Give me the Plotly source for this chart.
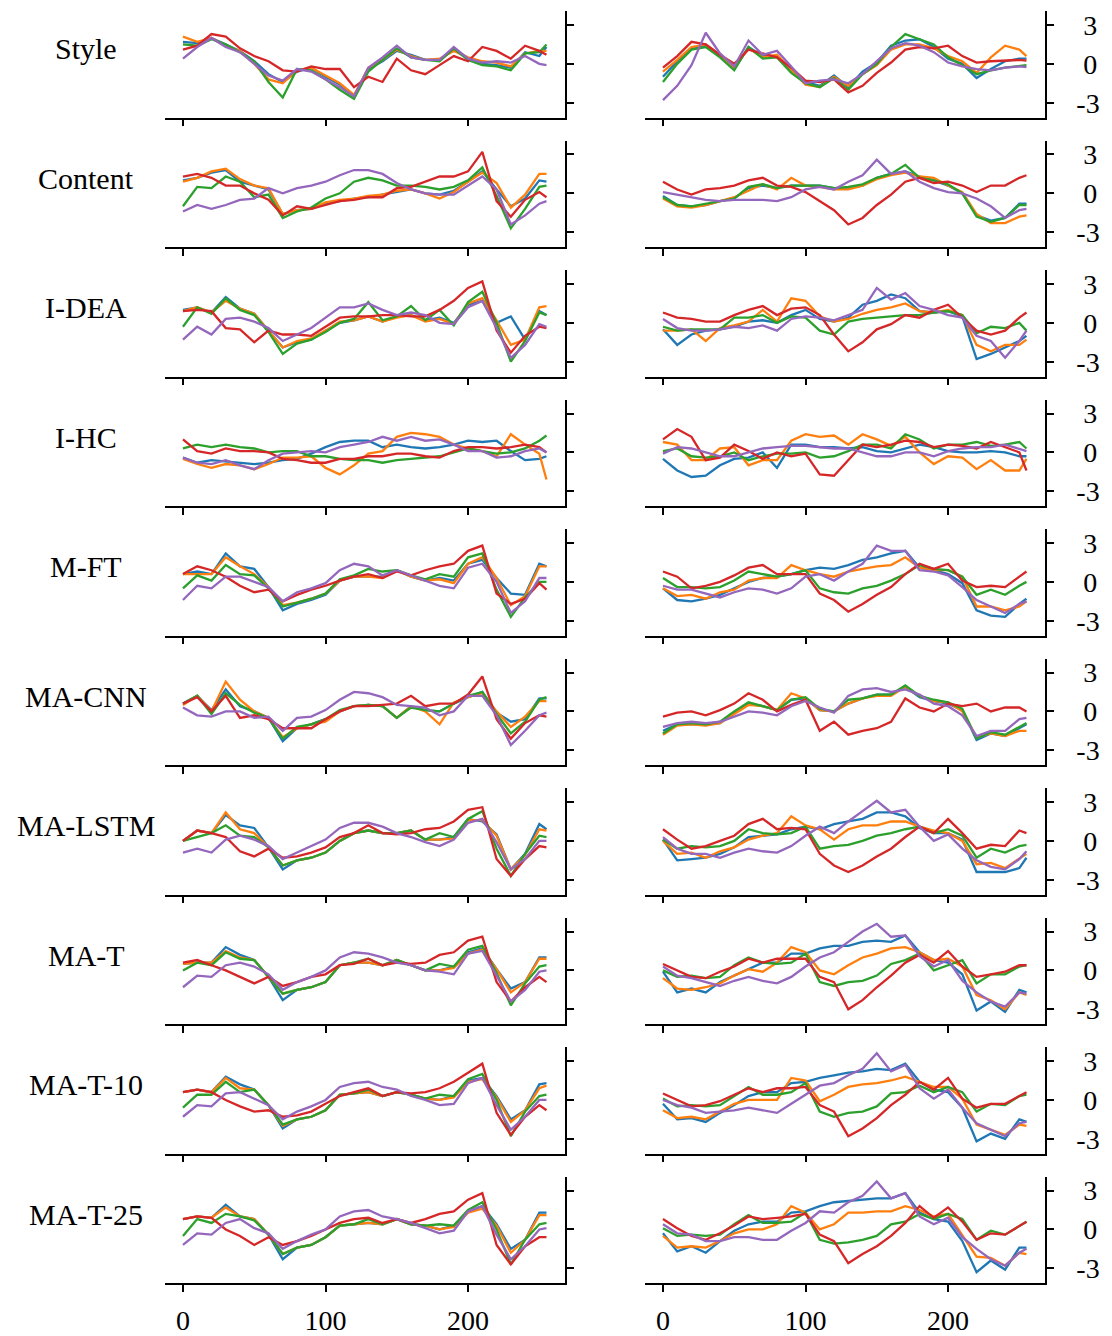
import plotly.graph_objects as go

# ---------------- data ----------------
t = [0, 10, 20, 30, 40, 50, 60, 70, 80, 90, 100, 110, 120, 130, 140, 150, 160, 170, 180, 190, 200, 210, 220, 230, 240, 250, 255]
row_labels = ["Style", "Content", "I-DEA", "I-HC", "M-FT", "MA-CNN", "MA-LSTM", "MA-T", "MA-T-10", "MA-T-25"]
colors = ["#1f77b4", "#ff7f0e", "#2ca02c", "#d62728", "#9467bd"]
x_ticks = [0, 100, 200]
y_ticks = [-3, 0, 3]
y_tick_labels = ["-3", "\u20050", "\u20053"]

# Style
style_l_blue = [1.7,1.6,2.0,1.5,1.0,0.2,-0.8,-1.4,-0.6,-0.3,-1.0,-1.6,-2.5,-0.4,0.2,1.0,0.7,0.3,0.3,1.1,0.4,0.0,-0.1,-0.3,0.9,0.6,1.3]
style_l_orange = [2.1,1.7,2.0,1.4,1.0,0.0,-1.2,-1.5,-0.5,-0.3,-0.9,-1.5,-2.4,-0.3,0.3,1.1,0.6,0.3,0.4,1.0,0.5,0.2,0.1,-0.2,0.8,1.0,1.0]
style_l_green = [1.5,1.4,1.9,1.5,0.9,0.2,-1.4,-2.6,-0.4,-0.5,-1.2,-2.0,-2.7,-0.6,0.3,1.2,0.5,0.3,0.2,1.2,0.3,-0.1,-0.2,-0.5,0.8,0.9,1.5]
style_l_red = [1.1,1.4,2.3,2.1,1.2,0.6,0.2,-0.5,-0.6,-0.2,-0.4,-0.4,-1.8,-1.0,-1.4,0.4,-0.5,-0.8,-0.1,0.6,0.2,1.3,1.0,0.4,1.4,1.0,0.7]
style_l_purple = [0.4,1.3,2.0,1.3,0.9,0.0,-0.9,-1.3,-0.4,-0.6,-1.2,-1.8,-2.5,-0.3,0.5,1.4,0.5,0.3,0.3,1.3,0.4,0.1,0.2,0.1,0.6,0.0,-0.1]
style_r_blue = [-1.0,0.2,1.2,1.4,0.6,-0.4,1.3,0.6,0.6,-0.6,-1.4,-1.7,-0.9,-1.8,-0.6,0.1,1.4,1.8,1.9,1.3,0.4,0.0,-1.1,-0.4,0.2,0.4,0.4]
style_r_orange = [-0.6,0.3,1.3,1.5,0.7,-0.3,1.2,0.5,0.7,-0.5,-1.6,-1.8,-1.0,-1.7,-0.8,-0.1,1.1,1.5,1.5,1.2,0.6,0.2,-0.7,0.5,1.4,1.1,0.6]
style_r_green = [-1.4,0.0,1.1,1.3,0.5,-0.5,1.3,0.4,0.5,-0.7,-1.5,-1.8,-1.1,-2.0,-0.8,0.0,1.3,2.3,1.9,1.5,0.5,-0.1,-0.8,-0.5,-0.3,-0.2,-0.1]
style_r_red = [-0.3,0.6,1.7,1.5,0.7,0.0,1.1,0.8,0.5,-0.3,-1.3,-1.4,-1.2,-2.2,-1.7,-0.7,0.1,1.1,1.3,1.2,1.4,0.6,0.1,0.2,0.25,0.3,0.25]
style_r_purple = [-2.8,-1.7,-0.1,2.4,0.8,-0.2,1.8,0.7,1.0,-0.2,-1.5,-1.3,-1.2,-1.5,-0.8,0.2,1.2,1.6,1.4,0.9,0.1,-0.2,-0.4,-0.5,-0.3,-0.2,-0.25]

# Content
content_l_blue = [1.0,1.2,1.6,1.8,0.9,0.6,0.3,-1.6,-1.3,-1.2,-0.8,-0.6,-0.4,-0.3,-0.1,0.1,0.3,0.0,-0.1,0.2,0.9,1.7,0.3,-1.0,-0.4,1.0,0.9]
content_l_orange = [0.9,1.2,1.7,1.9,1.1,0.6,0.4,-1.6,-1.3,-1.2,-0.7,-0.5,-0.4,-0.2,-0.1,0.2,0.3,0.0,-0.4,0.1,0.9,1.6,0.8,-1.1,-0.1,1.5,1.5]
content_l_green = [-1.0,0.5,0.4,1.3,0.9,-0.3,-0.1,-1.9,-1.4,-1.1,-0.4,0.0,0.9,1.2,1.0,0.6,0.6,0.5,0.3,0.5,1.0,2.0,-0.2,-2.7,-1.2,0.5,0.6]
content_l_red = [1.3,1.5,1.2,0.6,0.6,0.0,-0.5,-1.7,-1.0,-1.2,-0.9,-0.6,-0.5,-0.3,-0.3,0.4,0.5,0.9,1.3,1.3,1.7,3.2,-0.6,-1.8,-0.5,0.1,-0.3]
content_l_purple = [-1.4,-0.9,-1.2,-0.9,-0.5,-0.4,0.4,0.0,0.4,0.6,0.9,1.4,1.8,1.8,1.5,0.8,0.3,0.0,-0.1,-0.1,0.6,1.3,0.3,-2.4,-1.7,-0.8,-0.6]
content_r_blue = [-0.2,-0.9,-1.0,-0.9,-0.6,-0.4,0.4,0.6,0.4,0.6,0.6,0.6,0.4,0.4,0.6,1.2,1.5,1.7,1.3,1.0,0.6,0.0,-1.7,-2.1,-1.9,-0.8,-0.8]
content_r_orange = [-0.4,-1.0,-1.1,-0.9,-0.6,-0.3,0.2,0.7,0.3,1.2,0.6,0.5,0.3,0.3,0.6,1.1,1.4,1.6,1.3,1.2,0.6,0.1,-1.6,-2.3,-2.3,-1.8,-1.7]
content_r_green = [-0.3,-0.9,-1.0,-0.8,-0.6,-0.4,0.5,0.7,0.4,0.6,0.6,0.6,0.4,0.5,0.7,1.2,1.5,2.2,1.2,1.0,0.7,0.0,-1.8,-2.2,-1.9,-0.9,-0.9]
content_r_red = [0.9,0.3,-0.1,0.3,0.4,0.6,1.0,1.2,0.6,0.5,0.1,-0.6,-1.3,-2.4,-1.9,-0.9,-0.1,0.9,1.2,0.8,0.9,0.6,0.1,0.6,0.6,1.2,1.4]
content_r_purple = [0.1,-0.1,-0.3,-0.5,-0.6,-0.5,-0.5,-0.5,-0.6,-0.3,0.3,0.5,0.3,0.9,1.4,2.6,1.5,1.7,0.9,0.4,0.1,0.0,-0.4,-1.0,-1.9,-1.3,-1.2]

# I-DEA
idea_l_blue = [1.0,1.2,0.8,2.0,1.1,0.7,-0.6,-1.9,-1.5,-1.3,-0.6,0.0,0.2,0.5,0.1,0.5,0.6,0.2,0.4,0.0,1.4,1.7,0.0,0.5,-1.3,0.9,0.6]
idea_l_orange = [0.9,1.2,0.8,1.7,1.1,0.7,-0.6,-1.9,-1.4,-1.2,-0.6,0.1,0.2,0.5,0.1,0.4,0.6,0.1,0.3,-0.1,1.5,1.9,0.2,-1.7,-1.3,1.2,1.3]
idea_l_green = [-0.3,1.2,0.7,1.9,1.0,0.6,-0.7,-2.4,-1.6,-1.3,-0.7,0.0,0.3,1.6,0.2,0.5,1.3,0.2,1.0,-0.2,1.6,2.4,0.0,-3.0,-1.4,0.8,0.6]
idea_l_red = [0.9,1.0,0.9,-0.4,-0.5,-1.5,-0.6,-0.9,-0.9,-1.0,-0.3,0.4,0.5,0.5,0.6,0.6,0.5,0.5,1.0,1.7,2.7,3.2,-0.6,-2.3,-1.0,-0.3,-0.4]
idea_l_purple = [-1.3,-0.3,-0.9,0.3,0.4,0.1,-0.4,-1.4,-0.9,-0.4,0.4,1.2,1.2,1.5,1.0,0.6,0.8,0.6,0.0,-0.1,1.2,1.7,-0.4,-2.7,-1.7,-0.1,-0.3]
idea_r_blue = [-0.5,-1.7,-0.9,-0.6,-0.5,-0.3,0.1,0.2,0.0,0.6,1.0,0.3,0.1,0.4,1.4,1.7,2.2,1.9,0.9,0.8,0.9,0.5,-2.8,-2.4,-1.9,-1.4,-1.0]
idea_r_orange = [-0.6,-0.6,-0.5,-1.4,-0.4,-0.2,0.1,1.0,0.1,1.9,1.7,0.5,0.1,0.3,0.7,1.0,1.2,1.5,0.9,0.8,1.0,0.6,-1.7,-2.2,-1.7,-1.7,-1.3]
idea_r_green = [-0.3,-0.6,-0.5,-0.5,-0.5,0.4,0.4,0.6,0.0,0.5,0.4,-0.6,-0.9,0.1,0.3,0.4,0.5,0.6,0.6,0.8,0.9,0.6,-0.8,-0.3,-0.4,0.0,-0.6]
idea_r_red = [0.8,0.4,0.3,0.1,0.1,0.6,1.0,1.3,0.6,1.1,1.2,0.6,-0.9,-2.2,-1.5,-0.5,-0.1,0.6,0.4,1.0,1.4,0.4,-0.6,-0.9,-0.6,0.4,0.8]
idea_r_purple = [0.3,-0.4,-0.6,-0.6,-0.5,-0.3,-0.4,-0.2,-0.6,0.3,0.5,0.4,0.2,0.6,1.0,2.7,1.8,2.3,1.3,1.0,0.6,0.4,-1.0,-1.4,-2.7,-1.4,-0.6]

# I-HC
ihc_l_blue = [-0.4,-0.8,-0.6,-0.7,-0.8,-0.9,-0.8,-0.6,-0.5,-0.1,0.4,0.8,0.9,0.9,0.4,0.6,0.4,0.3,0.4,0.6,0.9,0.8,0.9,0.1,-0.6,-0.5,-0.3]
ihc_l_orange = [-0.5,-0.9,-1.2,-0.9,-1.0,-1.3,-0.9,-0.4,-0.4,-0.3,-1.2,-1.7,-1.0,-0.1,0.1,1.2,1.5,1.4,1.2,0.6,0.3,0.1,-0.3,1.4,0.6,-0.1,-2.1]
ihc_l_green = [0.3,0.6,0.4,0.6,0.4,0.3,0.0,0.1,0.1,-0.3,-0.3,-0.5,-0.6,-0.6,-0.8,-0.6,-0.5,-0.4,-0.3,0.0,0.3,0.1,-0.1,0.0,0.3,0.9,1.3]
ihc_l_red = [1.0,0.1,-0.1,0.3,0.1,0.1,0.0,-0.5,-0.6,-0.8,-0.8,-0.5,-0.5,-0.3,-0.3,-0.1,-0.1,-0.3,-0.4,0.1,0.4,0.4,0.3,0.4,0.6,0.4,0.0]
ihc_l_purple = [-0.4,-0.8,-0.9,-0.6,-1.0,-1.3,-0.6,-0.1,0.0,0.1,0.0,0.4,0.6,0.8,1.2,0.9,1.2,0.9,1.0,0.6,0.1,0.1,-0.4,-0.3,0.1,0.3,0.0]
ihc_r_blue = [-0.5,-1.4,-1.9,-1.8,-1.0,-0.5,-0.4,0.0,-1.2,0.6,0.6,0.4,0.4,0.3,0.4,0.1,0.0,0.3,0.6,0.4,0.1,0.0,0.0,0.1,0.0,-0.3,-0.3]
ihc_r_orange = [0.8,0.6,-0.6,-0.6,0.3,0.4,-1.0,-0.6,-0.6,0.9,1.4,1.2,1.3,0.6,1.4,1.0,0.5,1.2,0.0,-0.9,-0.3,-0.4,-1.3,-0.6,-1.4,-1.4,-0.5]
ihc_r_green = [0.1,0.3,-0.3,-0.4,-0.3,0.0,-0.6,-0.3,-0.1,-0.1,0.0,-0.4,-0.3,0.1,0.6,0.6,0.3,1.4,1.0,0.3,0.6,0.6,0.8,0.5,0.6,0.8,0.3]
ihc_r_red = [1.0,1.8,1.2,-0.6,-0.4,0.6,0.1,-0.5,0.0,-0.3,-0.1,-1.7,-1.8,-0.6,0.6,0.4,0.6,0.9,0.8,0.4,0.6,0.5,0.3,0.8,0.4,0.0,-1.4]
ihc_r_purple = [-0.1,0.4,0.3,0.0,-0.3,-0.3,0.0,0.3,0.4,0.5,0.5,0.4,0.3,0.3,0.0,-0.3,-0.3,0.0,0.0,-0.3,0.1,0.3,0.4,0.4,0.6,0.3,0.1]

# M-FT
mft_l_blue = [0.6,0.8,0.6,2.2,1.2,1.0,-0.4,-2.2,-1.7,-1.4,-1.0,0.1,0.4,0.4,0.4,0.9,0.4,0.1,0.3,0.1,1.4,1.7,0.3,-0.9,-1.0,1.4,1.2]
mft_l_orange = [0.6,0.6,0.6,1.9,1.2,0.6,-0.4,-1.8,-1.6,-1.3,-0.9,0.1,0.4,0.4,0.3,0.9,0.4,0.1,0.2,-0.1,1.4,1.9,0.3,-1.8,-1.1,1.2,1.2]
mft_l_green = [-0.5,0.5,0.1,1.3,0.6,0.5,-0.5,-1.9,-1.6,-1.3,-0.9,0.2,0.5,1.0,0.8,0.9,0.5,0.2,0.6,0.4,1.9,2.2,-0.6,-2.7,-1.2,0.0,0.0]
mft_l_red = [0.6,1.2,0.9,0.4,-0.3,-0.8,-0.6,-1.5,-1.0,-0.6,-0.3,0.1,0.4,0.6,0.3,0.8,0.5,0.9,1.2,1.4,2.4,2.8,-0.9,-1.7,-1.3,-0.1,-0.6]
mft_l_purple = [-1.4,-0.3,-0.5,0.4,0.4,0.0,-0.4,-1.5,-0.8,-0.5,-0.1,0.9,1.4,1.2,0.5,0.9,0.5,0.1,-0.3,-0.5,1.1,1.4,0.0,-2.4,-1.5,0.3,0.3]
mft_r_blue = [-0.5,-1.4,-1.5,-1.3,-1.0,-0.5,0.0,0.3,0.4,0.6,0.9,1.1,1.0,1.3,1.7,1.9,2.2,2.4,1.1,0.9,0.6,-0.1,-2.2,-2.6,-2.7,-1.7,-1.3]
mft_r_orange = [-0.5,-1.1,-1.0,-1.3,-0.8,-0.6,0.1,0.3,0.3,1.3,0.9,0.6,0.4,0.8,1.0,1.2,1.3,1.9,1.1,0.9,0.9,0.4,-1.9,-1.9,-2.2,-1.9,-1.5]
mft_r_green = [0.3,-0.4,-0.4,-0.5,-0.4,0.1,0.8,0.6,0.4,0.6,0.9,-0.5,-0.8,-0.9,-0.5,-0.3,0.1,0.6,1.3,1.0,0.9,0.4,-1.0,-0.6,-1.0,-0.3,0.0]
mft_r_red = [0.8,0.4,-0.5,-0.3,0.0,0.5,1.1,1.3,0.6,0.6,0.6,-0.9,-1.4,-2.3,-1.7,-1.0,-0.4,0.6,1.4,1.0,1.4,0.1,-0.4,-0.3,-0.4,0.4,0.8]
mft_r_purple = [-0.3,-0.6,-0.6,-0.9,-1.2,-0.8,-0.5,-0.6,-0.9,-0.5,0.4,0.6,0.1,0.8,1.4,2.8,2.4,2.4,0.9,0.8,0.5,-0.4,-1.4,-1.9,-2.4,-1.7,-1.5]

# MA-CNN
macnn_l_blue = [0.6,1.2,0.1,1.7,0.4,0.0,-0.5,-2.3,-1.3,-1.0,-0.6,0.0,0.4,0.5,0.4,-0.5,0.4,0.1,0.0,0.6,1.1,1.5,-0.1,-0.8,-0.6,1.0,1.0]
macnn_l_orange = [0.5,1.2,0.0,2.3,0.9,0.0,-0.5,-2.0,-1.3,-1.0,-0.8,0.0,0.4,0.5,0.4,-0.5,0.4,0.0,-1.0,0.7,1.1,1.4,0.0,-1.2,-0.4,0.8,0.8]
macnn_l_green = [0.6,1.2,-0.2,1.4,0.5,-0.1,-0.5,-2.1,-1.2,-1.0,-0.6,0.1,0.4,0.5,0.4,-0.5,0.3,0.1,0.0,0.6,1.2,1.5,-0.2,-1.7,-0.8,0.9,1.1]
macnn_l_red = [0.6,1.1,0.0,1.2,-0.5,-0.3,-0.6,-1.3,-1.3,-1.3,-0.6,0.0,0.4,0.4,0.5,0.6,1.2,0.4,0.6,0.6,1.3,2.7,-0.6,-2.1,-0.9,-0.3,-0.4]
macnn_l_purple = [0.3,-0.3,-0.4,0.0,0.0,-0.5,-0.4,-1.5,-0.5,-0.4,0.1,0.9,1.5,1.4,1.1,0.5,0.4,0.3,-0.3,0.0,1.2,1.2,-0.3,-2.6,-1.5,-0.3,-0.1]
macnn_r_blue = [-1.5,-1.0,-1.0,-1.0,-0.9,-0.1,0.6,0.4,0.1,0.9,1.0,0.1,0.0,0.6,1.0,1.3,1.3,1.9,1.1,0.8,0.6,0.1,-2.2,-1.7,-1.9,-1.3,-1.0]
macnn_r_orange = [-1.8,-1.1,-1.0,-1.1,-0.9,-0.2,0.5,0.4,0.1,1.4,1.0,0.1,0.0,0.6,1.0,1.2,1.2,1.9,1.2,0.8,0.7,0.0,-2.0,-1.7,-1.9,-1.5,-1.5]
macnn_r_green = [-1.7,-1.0,-0.9,-1.0,-0.8,0.0,0.7,0.4,0.1,0.9,1.1,0.2,0.0,0.9,1.0,1.3,1.3,2.0,1.2,0.9,0.7,0.2,-2.1,-1.6,-1.8,-1.2,-0.9]
macnn_r_red = [-0.4,-0.1,0.0,-0.3,0.1,0.6,1.4,0.9,0.0,0.5,0.9,-1.5,-0.8,-1.8,-1.5,-1.3,-0.8,1.0,0.3,0.0,0.6,0.4,0.6,0.0,0.3,0.3,0.0]
macnn_r_purple = [-1.2,-0.9,-0.8,-0.9,-0.8,-0.4,0.0,-0.1,-0.3,0.4,0.8,0.3,-0.1,1.2,1.7,1.8,1.5,1.7,1.3,0.6,0.4,-0.3,-1.9,-1.5,-1.5,-0.6,-0.5]

# MA-LSTM
malstm_l_blue = [0.0,0.8,0.6,2.0,1.2,1.0,-0.5,-2.2,-1.5,-1.3,-0.9,0.0,0.6,0.8,0.6,0.6,0.8,0.1,0.1,0.3,1.7,1.5,0.5,-2.2,-1.0,1.3,0.9]
malstm_l_orange = [0.0,0.8,0.6,2.2,0.9,0.6,-0.5,-1.9,-1.5,-1.3,-0.9,0.0,0.6,0.8,0.6,0.6,0.8,0.1,0.1,0.2,1.6,1.6,0.4,-2.2,-1.1,0.9,0.8]
malstm_l_green = [0.0,0.3,0.6,1.2,0.4,0.3,-0.5,-1.9,-1.5,-1.3,-0.9,0.0,0.6,0.8,0.6,0.6,0.8,0.1,0.6,0.3,1.7,2.3,-0.6,-2.7,-1.0,0.4,0.3]
malstm_l_red = [0.0,0.8,0.6,0.3,-0.8,-1.2,-0.6,-1.3,-1.2,-0.9,-0.5,0.3,0.6,1.2,0.6,0.5,0.6,0.9,1.0,1.5,2.4,2.6,-1.4,-2.7,-1.4,-0.4,-0.5]
malstm_l_purple = [-0.9,-0.6,-0.9,0.1,0.4,0.1,-0.4,-1.4,-0.9,-0.4,0.1,1.0,1.4,1.4,1.1,0.6,0.3,-0.1,-0.4,0.1,1.4,1.7,-0.1,-2.2,-1.4,0.0,0.0]
malstm_r_blue = [0.1,-1.5,-1.4,-1.3,-1.0,-0.5,0.3,0.4,0.5,0.9,1.1,0.9,1.3,1.5,1.7,2.2,2.2,1.9,1.0,0.6,0.6,0.1,-2.4,-2.4,-2.4,-2.1,-1.3]
malstm_r_orange = [0.0,-1.0,-0.9,-1.3,-0.8,-0.5,0.1,0.4,0.6,1.9,1.2,0.9,0.1,0.9,1.2,1.2,1.5,1.5,1.1,0.8,0.6,0.0,-1.8,-1.7,-2.1,-1.4,-1.0]
malstm_r_green = [0.1,-0.6,-0.4,-0.5,-0.4,0.0,0.9,0.6,0.5,0.6,1.1,-0.6,-0.4,-0.3,0.0,0.4,0.6,0.9,1.1,0.6,0.9,0.4,-1.3,-0.6,-0.9,-0.4,-0.3]
malstm_r_red = [0.9,0.1,-0.6,-0.4,0.0,0.4,1.3,1.7,0.9,1.0,0.9,-1.0,-1.9,-2.4,-1.9,-1.2,-0.6,0.3,1.1,0.6,1.7,0.6,-0.6,-0.3,-0.4,0.8,0.6]
malstm_r_purple = [0.3,-0.6,-1.0,-1.0,-1.3,-0.9,-0.6,-0.8,-0.9,-0.4,0.4,1.1,0.6,1.5,2.3,3.1,2.2,2.4,1.1,0.0,0.5,-0.6,-1.5,-2.0,-2.2,-1.4,-0.8]

# MA-T
mat_l_blue = [0.5,0.6,0.6,1.8,1.2,0.8,-0.5,-2.3,-1.5,-1.3,-0.9,0.4,0.6,0.6,0.4,0.8,0.4,0.0,0.0,0.3,1.4,1.7,0.1,-1.4,-0.9,1.0,1.0]
mat_l_orange = [0.5,0.6,0.6,1.5,1.0,0.8,-0.5,-1.8,-1.5,-1.3,-0.9,0.4,0.6,0.6,0.4,0.8,0.4,0.0,0.0,0.2,1.3,1.6,0.1,-1.7,-0.9,0.9,0.9]
mat_l_green = [0.0,0.6,0.4,1.4,0.9,0.8,-0.5,-1.8,-1.5,-1.3,-0.9,0.4,0.6,0.9,0.4,0.8,0.4,0.0,0.5,0.3,1.6,1.9,-0.2,-2.7,-1.0,0.3,0.4]
mat_l_red = [0.6,0.8,0.4,0.0,-0.5,-1.0,-0.5,-1.2,-0.9,-0.5,-0.3,0.4,0.5,0.9,0.4,0.6,0.5,0.6,1.2,1.4,2.3,2.6,-0.9,-2.4,-1.3,-0.5,-0.9]
mat_l_purple = [-1.3,-0.4,-0.5,0.4,0.6,0.3,-0.3,-1.5,-0.9,-0.5,0.0,1.0,1.4,1.3,1.0,0.6,0.4,0.0,-0.1,-0.3,1.3,1.5,-0.4,-2.4,-1.5,-0.1,0.0]
mat_r_blue = [-0.1,-1.7,-1.4,-1.7,-0.9,-0.4,0.1,0.6,0.6,1.3,1.3,1.7,1.9,1.9,2.2,2.3,2.2,2.7,1.4,0.8,0.6,-0.3,-3.1,-2.4,-3.2,-1.5,-1.7]
mat_r_orange = [-0.6,-1.4,-1.5,-1.3,-1.0,-0.4,0.1,-0.1,0.6,1.8,1.4,0.0,-0.3,0.4,1.0,1.3,1.7,1.8,1.4,0.8,0.9,0.3,-1.9,-2.3,-3.0,-1.7,-1.9]
mat_r_green = [0.0,-0.5,-0.4,-0.6,-0.5,0.4,1.0,0.6,0.5,0.6,1.3,-0.9,-1.2,-0.9,-0.8,-0.4,0.5,0.8,1.3,0.0,0.4,0.8,-1.0,-0.3,-0.3,0.3,0.4]
mat_r_red = [0.5,0.0,-0.5,-0.6,-0.1,0.3,0.9,0.6,0.9,0.9,0.9,-0.5,-0.9,-3.0,-2.3,-1.3,-0.4,0.6,1.2,0.6,1.5,0.3,-0.5,-0.3,-0.1,0.4,0.4]
mat_r_purple = [0.3,-0.4,-0.6,-0.9,-1.2,-0.8,-0.5,-0.8,-1.0,-0.5,0.3,1.0,1.4,2.2,3.0,3.6,2.6,2.7,1.1,0.3,0.8,-0.8,-1.7,-2.4,-2.8,-1.7,-1.8]

# MA-T-10
mat10_l_blue = [0.6,0.8,0.6,1.8,1.2,0.8,-0.4,-2.2,-1.5,-1.3,-0.8,0.4,0.5,0.6,0.3,0.6,0.4,0.1,0.0,0.3,1.5,1.7,0.3,-1.5,-0.8,1.2,1.3]
mat10_l_orange = [0.6,0.8,0.6,1.7,0.9,0.8,-0.4,-2.0,-1.5,-1.3,-0.8,0.4,0.5,0.6,0.3,0.6,0.4,0.1,0.0,0.2,1.4,1.6,0.2,-1.7,-0.8,0.9,1.1]
mat10_l_green = [-0.6,0.4,0.4,1.4,0.6,0.8,-0.4,-1.9,-1.5,-1.3,-0.8,0.4,0.5,0.8,0.3,0.6,0.4,0.1,0.4,0.3,1.6,2.0,0.0,-2.8,-0.9,0.3,0.4]
mat10_l_red = [0.6,0.8,0.6,0.0,-0.5,-0.9,-0.8,-1.3,-1.2,-0.9,-0.3,0.3,0.6,0.9,0.3,0.6,0.5,0.6,0.9,1.4,2.1,2.8,-1.0,-2.7,-1.3,-0.4,-0.8]
mat10_l_purple = [-1.3,-0.4,-0.5,0.5,0.6,0.1,-0.4,-1.5,-0.9,-0.5,0.0,1.0,1.3,1.4,1.0,0.8,0.3,0.0,-0.4,-0.3,1.3,1.7,-0.4,-2.3,-1.3,0.0,0.0]
mat10_r_blue = [-0.3,-1.5,-1.4,-1.7,-1.0,-0.4,0.3,0.6,0.6,1.3,1.4,1.7,1.9,2.1,2.2,2.4,2.3,2.8,1.4,0.8,0.6,-0.6,-3.2,-2.6,-3.0,-1.5,-1.7]
mat10_r_orange = [-0.8,-1.4,-1.3,-1.5,-0.9,-0.3,0.0,0.0,0.0,1.7,1.5,-0.1,0.4,1.0,1.2,1.3,1.5,1.8,1.4,1.0,1.0,0.1,-1.9,-2.3,-2.7,-1.9,-2.0]
mat10_r_green = [0.1,-0.5,-0.4,-0.5,-0.4,0.3,1.0,0.4,0.4,0.6,1.3,-0.9,-1.3,-1.0,-0.9,-0.5,0.5,0.6,1.1,0.6,1.0,0.6,-0.9,-0.3,-0.4,0.3,0.4]
mat10_r_red = [0.5,0.0,-0.5,-0.4,-0.1,0.4,0.9,0.6,0.9,0.9,1.0,-0.4,-0.9,-2.8,-2.2,-1.4,-0.4,0.4,1.4,0.8,1.7,0.1,-0.6,-0.3,-0.3,0.3,0.6]
mat10_r_purple = [0.0,-0.4,-0.6,-1.0,-0.9,-0.8,-0.6,-0.8,-1.0,-0.3,0.4,1.1,1.3,1.9,2.4,3.6,2.2,2.7,0.9,0.1,0.8,-0.6,-1.8,-2.3,-2.8,-1.8,-1.7]

# MA-T-25
mat25_l_blue = [0.8,1.0,0.9,1.9,1.0,0.8,-0.4,-2.3,-1.4,-1.2,-0.6,0.3,0.4,0.5,0.4,0.8,0.4,0.3,0.0,0.3,1.4,1.8,0.4,-1.5,-0.8,1.3,1.3]
mat25_l_orange = [0.8,1.0,0.9,1.7,1.0,0.8,-0.4,-1.9,-1.4,-1.2,-0.6,0.3,0.4,0.5,0.4,0.8,0.4,0.3,0.0,0.2,1.3,1.6,0.3,-1.8,-0.8,1.1,1.1]
mat25_l_green = [-0.5,0.8,0.5,1.2,1.0,0.7,-0.4,-1.9,-1.4,-1.2,-0.6,0.3,0.4,0.8,0.4,0.8,0.4,0.3,0.4,0.3,1.5,2.1,0.0,-2.7,-0.8,0.4,0.5]
mat25_l_red = [0.8,1.0,0.9,0.0,-0.5,-1.2,-0.6,-1.2,-0.9,-0.5,0.0,0.5,0.8,0.9,0.5,0.8,0.5,0.8,1.2,1.4,2.3,2.8,-1.2,-2.7,-1.3,-0.6,-0.6]
mat25_l_purple = [-1.2,-0.3,-0.4,0.5,0.8,0.1,-0.3,-1.5,-0.9,-0.4,0.0,1.0,1.4,1.5,1.0,0.8,0.5,0.1,-0.3,-0.1,1.4,1.8,-0.4,-2.3,-1.3,0.0,0.1]
mat25_r_blue = [-0.3,-1.7,-1.3,-1.8,-0.9,-0.1,0.4,0.6,0.6,1.3,1.4,1.8,2.1,2.2,2.3,2.4,2.4,2.8,1.3,0.8,0.6,-0.9,-3.3,-2.4,-3.1,-1.4,-1.4]
mat25_r_orange = [-0.5,-1.4,-1.3,-1.4,-0.9,-0.3,0.0,0.0,0.4,1.8,1.3,0.0,0.4,1.3,1.3,1.4,1.4,1.8,1.5,1.0,1.2,-0.5,-2.1,-2.2,-2.8,-1.8,-1.9]
mat25_r_green = [0.1,-0.5,-0.4,-0.5,-0.4,0.4,1.1,0.5,0.5,0.6,1.3,-0.8,-1.1,-1.0,-0.8,-0.5,0.4,0.6,1.2,0.8,1.2,0.8,-0.8,-0.1,-0.4,0.3,0.6]
mat25_r_red = [0.8,0.1,-0.5,-0.8,-0.3,0.3,1.0,0.8,0.9,1.0,1.2,-0.4,-0.9,-2.6,-1.9,-1.3,-0.5,0.5,1.8,0.9,1.7,0.6,-0.8,-0.3,-0.4,0.3,0.6]
mat25_r_purple = [0.4,-0.3,-0.4,-0.9,-0.9,-0.6,-0.6,-0.8,-0.8,-0.1,0.5,1.4,1.3,2.1,2.6,3.7,2.4,2.8,1.0,0.4,0.9,-0.6,-1.5,-2.3,-2.8,-1.8,-1.5]

panels = [
    [[style_l_blue, style_l_orange, style_l_green, style_l_red, style_l_purple],
     [style_r_blue, style_r_orange, style_r_green, style_r_red, style_r_purple]],
    [[content_l_blue, content_l_orange, content_l_green, content_l_red, content_l_purple],
     [content_r_blue, content_r_orange, content_r_green, content_r_red, content_r_purple]],
    [[idea_l_blue, idea_l_orange, idea_l_green, idea_l_red, idea_l_purple],
     [idea_r_blue, idea_r_orange, idea_r_green, idea_r_red, idea_r_purple]],
    [[ihc_l_blue, ihc_l_orange, ihc_l_green, ihc_l_red, ihc_l_purple],
     [ihc_r_blue, ihc_r_orange, ihc_r_green, ihc_r_red, ihc_r_purple]],
    [[mft_l_blue, mft_l_orange, mft_l_green, mft_l_red, mft_l_purple],
     [mft_r_blue, mft_r_orange, mft_r_green, mft_r_red, mft_r_purple]],
    [[macnn_l_blue, macnn_l_orange, macnn_l_green, macnn_l_red, macnn_l_purple],
     [macnn_r_blue, macnn_r_orange, macnn_r_green, macnn_r_red, macnn_r_purple]],
    [[malstm_l_blue, malstm_l_orange, malstm_l_green, malstm_l_red, malstm_l_purple],
     [malstm_r_blue, malstm_r_orange, malstm_r_green, malstm_r_red, malstm_r_purple]],
    [[mat_l_blue, mat_l_orange, mat_l_green, mat_l_red, mat_l_purple],
     [mat_r_blue, mat_r_orange, mat_r_green, mat_r_red, mat_r_purple]],
    [[mat10_l_blue, mat10_l_orange, mat10_l_green, mat10_l_red, mat10_l_purple],
     [mat10_r_blue, mat10_r_orange, mat10_r_green, mat10_r_red, mat10_r_purple]],
    [[mat25_l_blue, mat25_l_orange, mat25_l_green, mat25_l_red, mat25_l_purple],
     [mat25_r_blue, mat25_r_orange, mat25_r_green, mat25_r_red, mat25_r_purple]],
]

# ---------------- layout ----------------
# The page body adds an 8px margin, so the figure is drawn 8px smaller
# and every reference pixel position is shifted by that offset.
OFF = 8
W, H = 1112 - OFF, 1336 - OFF
FONT = "Liberation Serif, Times New Roman, serif"
col_px = [(165 - OFF, 565 - OFF), (645 - OFF, 1045 - OFF)]
row_top0, row_h, row_pitch = 10 - OFF, 107, 130

fig = go.Figure()
layout = dict(
    width=W, height=H,
    margin=dict(l=0, r=0, t=0, b=0),
    paper_bgcolor="white", plot_bgcolor="white",
    showlegend=False,
    font=dict(family=FONT, size=28, color="black"),
)
annotations = []

for i in range(len(row_labels)):
    top = row_top0 + i * row_pitch
    bot = top + row_h
    for j in range(2):
        k = 2 * i + j + 1
        xn = "x" if k == 1 else f"x{k}"
        yn = "y" if k == 1 else f"y{k}"
        for s, col in zip(panels[i][j], colors):
            fig.add_trace(go.Scatter(x=t, y=s, mode="lines",
                                     line=dict(color=col, width=2.3),
                                     xaxis=xn, yaxis=yn, hoverinfo="skip"))
        xl, xr = col_px[j]
        layout["xaxis" if k == 1 else f"xaxis{k}"] = dict(
            domain=[xl / W, xr / W], anchor=yn, range=[-12.6, 268],
            tickvals=x_ticks, ticktext=[str(v) for v in x_ticks],
            showticklabels=(i == len(row_labels) - 1),
            ticks="outside", ticklen=7, tickwidth=1.5, tickcolor="black",
            showline=True, linecolor="black", linewidth=1.5,
            showgrid=False, zeroline=False,
            tickfont=dict(family=FONT, size=28, color="black"),
            ticklabelstandoff=4,
        )
        layout["yaxis" if k == 1 else f"yaxis{k}"] = dict(
            domain=[1 - bot / H, 1 - top / H], anchor=xn, side="right",
            range=[-4.15, 4.08],
            tickvals=y_ticks, ticktext=y_tick_labels,
            showticklabels=(j == 1),
            ticks="outside", ticklen=7, tickwidth=1.5, tickcolor="black",
            showline=True, linecolor="black", linewidth=1.5,
            showgrid=False, zeroline=False,
            tickfont=dict(family=FONT, size=28, color="black"),
            ticklabelstandoff=17,
        )
    annotations.append(dict(
        text=row_labels[i], xref="paper", yref="paper",
        x=(86 - OFF) / W, y=1 - (top + 38) / H, xanchor="center", yanchor="middle",
        showarrow=False, font=dict(family=FONT, size=30, color="black"),
    ))

layout["annotations"] = annotations
fig.update_layout(**layout)
fig.write_html("out.html")
